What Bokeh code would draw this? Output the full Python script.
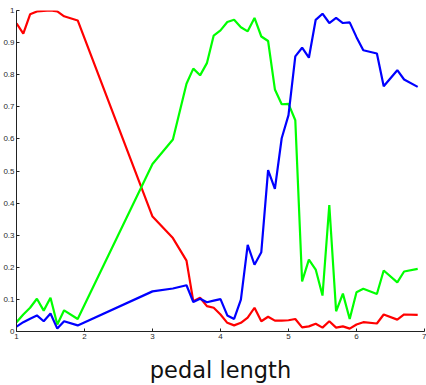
from bokeh.plotting import figure
from bokeh.embed import file_html
from bokeh.resources import INLINE
from bokeh.models import FixedTicker, CustomJSTickFormatter, ColumnDataSource

petal_length = [1.0, 1.1, 1.2, 1.3, 1.4, 1.5, 1.6, 1.7, 1.9, 3.0, 3.3, 3.5, 3.6, 3.7,
                3.8, 3.9, 4.0, 4.1, 4.2, 4.3, 4.4, 4.5, 4.6, 4.7, 4.8, 4.9, 5.0, 5.1,
                5.2, 5.3, 5.4, 5.5, 5.6, 5.7, 5.8, 5.9, 6.0, 6.1, 6.3, 6.4, 6.6, 6.7, 6.9]

setosa = [0.960, 0.928, 0.988, 0.997, 0.999, 1.000, 0.997, 0.982, 0.969, 0.358, 0.291, 0.221,
          0.094, 0.105, 0.079, 0.074, 0.053, 0.027, 0.019, 0.027, 0.043, 0.074, 0.032, 0.046,
          0.034, 0.034, 0.035, 0.039, 0.013, 0.016, 0.024, 0.012, 0.032, 0.012, 0.016, 0.009,
          0.022, 0.029, 0.025, 0.053, 0.037, 0.053, 0.052]

versicolor = [0.029, 0.053, 0.074, 0.102, 0.065, 0.105, 0.022, 0.066, 0.039, 0.522, 0.598, 0.772,
              0.819, 0.798, 0.836, 0.922, 0.938, 0.964, 0.971, 0.948, 0.935, 0.977, 0.919, 0.905,
              0.754, 0.708, 0.709, 0.658, 0.156, 0.224, 0.193, 0.112, 0.394, 0.063, 0.118, 0.039,
              0.122, 0.133, 0.117, 0.190, 0.153, 0.187, 0.195]

virginica = [0.015, 0.029, 0.040, 0.050, 0.032, 0.056, 0.009, 0.032, 0.019, 0.125, 0.134, 0.144,
             0.092, 0.102, 0.091, 0.096, 0.101, 0.050, 0.039, 0.099, 0.270, 0.208, 0.247, 0.503,
             0.444, 0.602, 0.674, 0.857, 0.884, 0.853, 0.971, 0.990, 0.961, 0.977, 0.961, 0.963,
             0.917, 0.876, 0.866, 0.764, 0.814, 0.785, 0.762]

x_ticks = [1, 2, 3, 4, 5, 6, 7]
y_ticks = [0, 0.1, 0.2, 0.3, 0.4, 0.5, 0.6, 0.7, 0.8, 0.9, 1]

src = ColumnDataSource(dict(x=petal_length, s=setosa, ve=versicolor, vi=virginica))

p = figure(width=426, height=385, x_range=(1, 7), y_range=(0, 1),
           output_backend="svg", toolbar_location=None,
           min_border_left=16, min_border_right=2, min_border_top=10, min_border_bottom=53)
p.outline_line_color = None
p.xgrid.visible = False
p.ygrid.visible = False
p.background_fill_color = "white"
p.border_fill_color = "white"

p.line("x", "s", source=src, color="#ff0000", line_width=2.2)
p.line("x", "ve", source=src, color="#00ff00", line_width=2.2)
p.line("x", "vi", source=src, color="#0000ff", line_width=2.2)

fmt = CustomJSTickFormatter(code="return String(parseFloat(tick.toFixed(2)));")
for ax in (p.xaxis[0], p.yaxis[0]):
    ax.formatter = fmt
    ax.major_tick_in = 3
    ax.major_tick_out = 0
    ax.minor_tick_line_color = None
    ax.axis_line_color = "#222222"
    ax.major_tick_line_color = "#222222"
    ax.major_label_text_font = "Liberation Sans"
    ax.major_label_text_font_size = "8px"
    ax.major_label_text_color = "#2a2a2a"
    ax.major_label_standoff = 2

p.xaxis[0].ticker = FixedTicker(ticks=x_ticks)
p.yaxis[0].ticker = FixedTicker(ticks=y_ticks)
p.xaxis[0].axis_label = "pedal length"
p.xaxis[0].axis_label_text_font = "DejaVu Sans"
p.xaxis[0].axis_label_text_font_style = "normal"
p.xaxis[0].axis_label_text_font_size = "22.5px"
p.xaxis[0].axis_label_text_color = "#111111"
p.xaxis[0].axis_label_standoff = 15

open("out.html", "w").write(file_html(p, INLINE))
